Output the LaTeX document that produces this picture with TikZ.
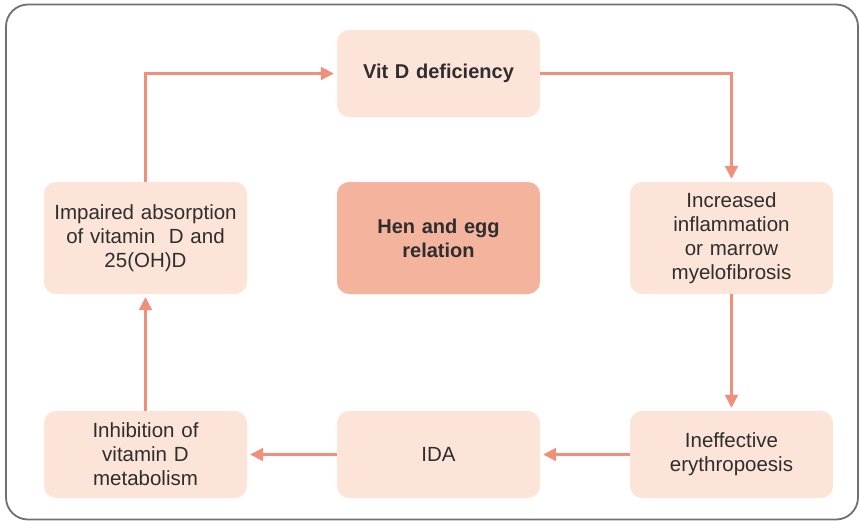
\documentclass[tikz,border=0pt]{standalone}
\usepackage{fontspec}
\setmainfont{Liberation Sans}
\usetikzlibrary{arrows.meta}
\definecolor{boxlight}{HTML}{FCE4D8}
\definecolor{boxdark}{HTML}{F4B39C}
\definecolor{arrowc}{HTML}{F0907A}
\definecolor{framec}{HTML}{707070}
\definecolor{txt}{HTML}{2E2E2E}
\tikzset{
  stepbox/.style={fill=boxlight, rounded corners=12pt, minimum width=203pt, text width=200pt, align=center, inner sep=0pt, text=txt, font=\fontsize{20.5}{24}\selectfont},
  flow/.style={draw=arrowc, line width=2.2pt, -{Triangle[length=13pt,width=13pt]}}
}
\begin{document}
\begin{tikzpicture}[x=1pt,y=-1pt]
\useasboundingbox (0,0) rectangle (860,523);
\draw[framec, line width=1.8pt, rounded corners=22pt] (6,4.5) rectangle (858,519.5);
\node[stepbox, minimum height=87pt, font=\bfseries\fontsize{20}{24}\selectfont] (vit) at (438.5,73.5) {Vit D deficiency};
\node[stepbox, minimum height=112pt] (imp) at (145.5,238) {Impaired absorption\\of vitamin\ \ D and\\25(OH)D};
\node[stepbox, minimum height=112pt, fill=boxdark, font=\bfseries\fontsize{20}{24}\selectfont] (hen) at (438.5,238) {Hen and egg\\relation};
\node[stepbox, minimum height=112pt] (inc) at (731.5,238) {Increased\\inflammation\\or marrow\\myelofibrosis};
\node[stepbox, minimum height=87pt] (inh) at (145.5,454.5) {Inhibition of\\vitamin D\\metabolism};
\node[stepbox, minimum height=87pt] (ida) at (438.5,454.5) {IDA};
\node[stepbox, minimum height=87pt] (ine) at (731.5,454.5) {Ineffective\\erythropoesis};
\draw[flow, shorten >=3pt] (imp.north) |- (vit.west);
\draw[flow, shorten >=3pt] (vit.east) -| (inc.north);
\draw[flow, shorten >=3pt] (inc.south) -- (ine.north);
\draw[flow, shorten >=3pt] (ine.west) -- (ida.east);
\draw[flow, shorten >=3pt] (ida.west) -- (inh.east);
\draw[flow, shorten >=3pt] (inh.north) -- (imp.south);
\end{tikzpicture}
\end{document}
